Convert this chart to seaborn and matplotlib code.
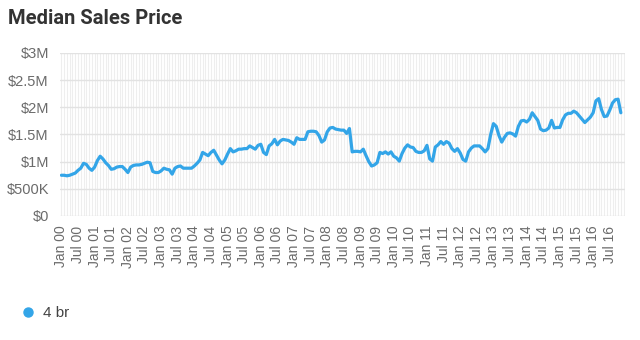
import matplotlib
matplotlib.use("Agg")
import matplotlib.pyplot as plt
from matplotlib.lines import Line2D
import seaborn as sns
import pandas as pd
import numpy as np

# ---- data (monthly, Jan 2000 .. Nov 2016), values in $M ----
series_name = "4 br"
prices_2000 = [0.75, 0.75, 0.74, 0.75, 0.77, 0.79, 0.84, 0.88, 0.97, 0.95, 0.88, 0.84]
prices_2001 = [0.90, 1.02, 1.10, 1.05, 0.98, 0.93, 0.86, 0.87, 0.90, 0.91, 0.91, 0.86]
prices_2002 = [0.80, 0.90, 0.93, 0.94, 0.94, 0.95, 0.97, 0.99, 0.98, 0.82, 0.80, 0.80]
prices_2003 = [0.83, 0.88, 0.86, 0.85, 0.77, 0.88, 0.91, 0.92, 0.88, 0.88, 0.88, 0.88]
prices_2004 = [0.92, 0.97, 1.03, 1.17, 1.14, 1.11, 1.17, 1.21, 1.12, 1.03, 0.96, 1.03]
prices_2005 = [1.14, 1.24, 1.18, 1.20, 1.23, 1.23, 1.24, 1.24, 1.29, 1.26, 1.23, 1.30]
prices_2006 = [1.32, 1.17, 1.13, 1.29, 1.33, 1.41, 1.31, 1.38, 1.41, 1.40, 1.39, 1.36]
prices_2007 = [1.32, 1.44, 1.41, 1.41, 1.41, 1.55, 1.56, 1.56, 1.55, 1.48, 1.36, 1.40]
prices_2008 = [1.55, 1.62, 1.63, 1.60, 1.59, 1.58, 1.58, 1.52, 1.61, 1.18, 1.19, 1.19]
prices_2009 = [1.18, 1.23, 1.11, 1.00, 0.92, 0.94, 0.98, 1.17, 1.15, 1.18, 1.14, 1.18]
prices_2010 = [1.10, 1.07, 1.01, 1.15, 1.25, 1.31, 1.27, 1.26, 1.19, 1.17, 1.17, 1.20]
prices_2011 = [1.30, 1.05, 1.01, 1.27, 1.31, 1.37, 1.32, 1.37, 1.34, 1.24, 1.19, 1.24]
prices_2012 = [1.16, 1.04, 1.01, 1.18, 1.25, 1.29, 1.29, 1.29, 1.24, 1.18, 1.24, 1.50]
prices_2013 = [1.70, 1.65, 1.48, 1.36, 1.45, 1.52, 1.53, 1.51, 1.47, 1.65, 1.75, 1.76]
prices_2014 = [1.73, 1.78, 1.90, 1.83, 1.76, 1.60, 1.57, 1.58, 1.62, 1.76, 1.62, 1.63]
prices_2015 = [1.63, 1.77, 1.86, 1.89, 1.89, 1.93, 1.90, 1.84, 1.78, 1.72, 1.77, 1.82]
prices_2016 = [1.90, 2.12, 2.16, 1.96, 1.83, 1.84, 1.95, 2.08, 2.14, 2.15, 1.90]

tick_labels = ["Jan 00", "Jul 00", "Jan 01", "Jul 01", "Jan 02", "Jul 02", "Jan 03", "Jul 03",
               "Jan 04", "Jul 04", "Jan 05", "Jul 05", "Jan 06", "Jul 06", "Jan 07", "Jul 07",
               "Jan 08", "Jul 08", "Jan 09", "Jul 09", "Jan 10", "Jul 10", "Jan 11", "Jul 11",
               "Jan 12", "Jul 12", "Jan 13", "Jul 13", "Jan 14", "Jul 14", "Jan 15", "Jul 15",
               "Jan 16", "Jul 16"]
y_ticks = [0, 0.5, 1.0, 1.5, 2.0, 2.5, 3.0]
y_labels = ["$0", "$500K", "$1M", "$1.5M", "$2M", "$2.5M", "$3M"]

prices = (prices_2000 + prices_2001 + prices_2002 + prices_2003 + prices_2004 + prices_2005 +
          prices_2006 + prices_2007 + prices_2008 + prices_2009 + prices_2010 + prices_2011 +
          prices_2012 + prices_2013 + prices_2014 + prices_2015 + prices_2016)
df = pd.DataFrame({"month": np.arange(len(prices)), "price": prices, "series": series_name})

# ---- style ----
sns.set_style("white")
plt.rcParams["font.family"] = ["Liberation Sans", "DejaVu Sans"]
line_color = "#33a5e8"
text_gray = "#6b6b6b"

fig = plt.figure(figsize=(6.4, 3.4), dpi=100)
ax = fig.add_axes([60 / 640, 1 - 216 / 340, 565 / 640, 163 / 340])

# monthly vertical grid
for m in range(len(prices) + 1):
    ax.axvline(m, color="#eeeeee", lw=0.8, zorder=0)
for yv in y_ticks:
    ax.axhline(yv, color="#e2e2e2", lw=1.0, zorder=0.5)

sns.lineplot(data=df, x="month", y="price", color=line_color, lw=2.3, ax=ax,
             legend=False, zorder=3)

ax.set_xlim(-0.5, len(prices) + 0.5)
ax.set_ylim(0, 3.0)
ax.set_yticks(y_ticks)
ax.set_yticklabels(y_labels, color=text_gray, fontsize=10.5)
ax.set_xticks(np.arange(0, 6 * len(tick_labels), 6))
ax.set_xticklabels(tick_labels, rotation=90, color=text_gray, fontsize=10)
ax.tick_params(axis="y", length=5, color="#d8d8d8", pad=3)
ax.tick_params(axis="x", length=4, color="#e0e0e0", pad=3)
ax.set_xlabel("")
ax.set_ylabel("")
for s in ax.spines.values():
    s.set_visible(False)

fig.text(8 / 640, 1 - 18 / 340, "Median Sales Price", fontsize=14.5, fontweight="bold",
         color="#333333", va="center", ha="left", family=["Roboto", "DejaVu Sans"])

handle = Line2D([], [], marker="o", linestyle="none", color=line_color, markersize=6.5)
fig.legend([handle], [series_name], loc="center left", bbox_to_anchor=(14 / 640, 1 - 313 / 340),
           frameon=False, fontsize=11, handletextpad=0.5, labelcolor="#444444",
           borderaxespad=0, handlelength=1.0)

fig.savefig("out.png", dpi=100)
